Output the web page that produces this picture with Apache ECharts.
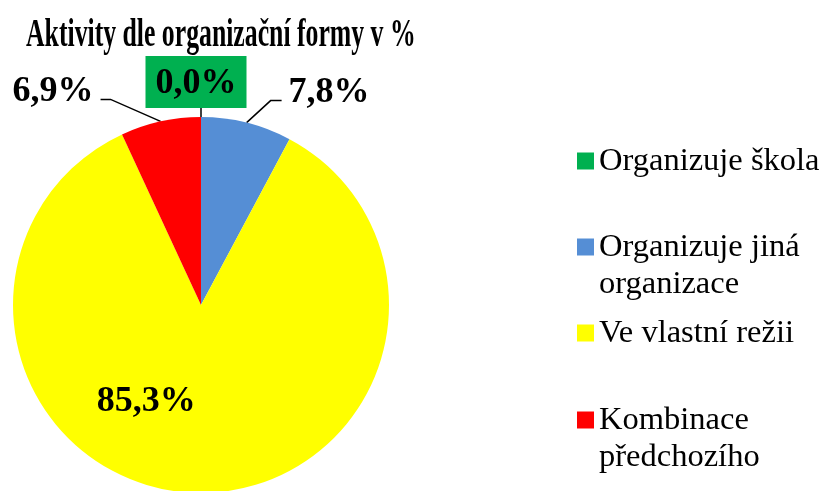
<!DOCTYPE html>
<html>
<head>
<meta charset="utf-8">
<script src="https://cdn.jsdelivr.net/npm/echarts@6/dist/echarts.min.js"></script>
<style>
  html, body { margin: 0; padding: 0; background: #fff; }
  #chart { width: 820px; height: 491px; }
</style>
</head>
<body>
<div id="chart"></div>
<script>
// data
const categories = ["Organizuje škola", "Organizuje jiná organizace", "Ve vlastní režii", "Kombinace předchozího"];
const legendNames = ["Organizuje škola", "\nOrganizuje jiná\norganizace", "Ve vlastní režii", "\nKombinace\npředchozího"];
const values = [0.0, 7.8, 85.3, 6.9];
const colors = ["#00B050", "#558ED5", "#FFFF00", "#FF0000"];

const serif = "Liberation Serif";

const myChart = echarts.init(document.getElementById("chart"));

// marker centres of the legend rows
const legendMid = [161, 247, 333, 420];
const legends = categories.map((name, i) => {
  const lines = legendNames[i].split("\n").length;
  return {
    orient: "vertical",
    left: 577,
    top: legendMid[i] - (lines * 37) / 2,
    padding: 0,
    data: [name],
    icon: "rect",
    itemWidth: 17,
    itemHeight: 17,
    itemGap: 0,
    selectedMode: false,
    formatter: () => legendNames[i],
    textStyle: {
      fontFamily: serif,
      fontSize: 32.5,
      color: "#000",
      lineHeight: 37
    }
  };
});

// leader line shape per slice: first bend and horizontal run
const bends = {
  1: { dx: 24, dy: -22, run: 11 },
  3: { dx: -50, dy: -22, run: -10 }
};

const option = {
  backgroundColor: "#fff",
  animation: false,
  color: colors,
  graphic: [
    {
      type: "text",
      left: 26,
      top: 16,
      scaleX: 0.66,
      style: {
        text: "Aktivity dle organizační formy v %",
        font: 'bold 39px "Liberation Serif"',
        fill: "#000"
      }
    }
  ],
  legend: legends,
  series: [
    {
      type: "pie",
      center: [201, 305],
      radius: 188,
      startAngle: 90,
      clockwise: true,
      avoidLabelOverlap: false,
      stillShowZeroSum: true,
      label: {
        show: true,
        position: "outside",
        fontFamily: serif,
        fontWeight: "bold",
        fontSize: 36,
        color: "#000",
        formatter: p => p.value.toFixed(1).replace(".", ",") + "%"
      },
      labelLine: {
        show: true,
        length: 24,
        length2: 32,
        lineStyle: { color: "#000", width: 1.5 }
      },
      labelLayout: params => {
        const pts = params.labelLinePoints;
        if (params.dataIndex === 0 && pts) {
          const p0 = pts[0];
          return {
            x: p0[0] - 5,
            y: p0[1] - 9,
            align: "center",
            verticalAlign: "bottom",
            labelLinePoints: [p0, [p0[0], p0[1] - 9], [p0[0], p0[1] - 9]]
          };
        }
        if (bends[params.dataIndex] && pts) {
          const b = bends[params.dataIndex];
          const p0 = pts[0];
          const p1 = [p0[0] + b.dx, p0[1] + b.dy];
          const p2 = [p1[0] + b.run, p1[1]];
          return {
            x: p2[0] + (b.run > 0 ? 7 : -7),
            y: p2[1] - 8,
            align: b.run > 0 ? "left" : "right",
            verticalAlign: "middle",
            labelLinePoints: [p0, p1, p2]
          };
        }
        if (params.dataIndex === 2) {
          return { dx: -52, dy: 0 };
        }
      },
      data: categories.map((name, i) => {
        const item = { name, value: values[i] };
        if (i === 0) {
          item.label = { backgroundColor: "#00B050", padding: [10, 10, 6, 10] };
        }
        if (i === 2) {
          item.label = { position: "inside" };
          item.labelLine = { show: false };
        }
        return item;
      })
    }
  ]
};

myChart.setOption(option);
</script>
</body>
</html>
